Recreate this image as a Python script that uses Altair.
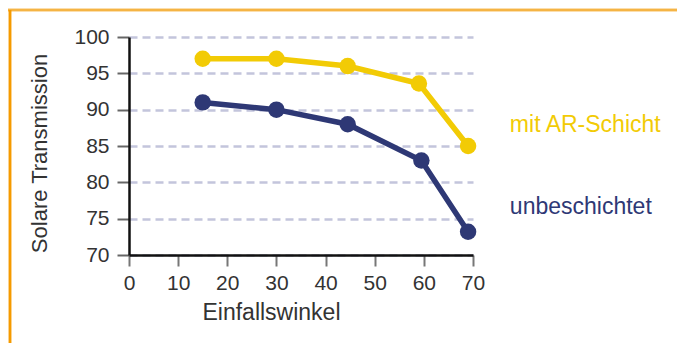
import altair as alt
import pandas as pd

angles_ar = [15, 30, 44.5, 59, 69]
trans_ar = [97, 97, 96, 93.6, 85]
angles_un = [15, 30, 44.5, 59.5, 69]
trans_un = [91, 90, 88, 83, 73.2]
series = ["mit AR-Schicht", "unbeschichtet"]
colors = ["#f2cb05", "#2e3875"]
label_x = [77.5, 77.5]
label_y = [87.9, 76.6]

df = pd.DataFrame({
    "Einfallswinkel": angles_ar + angles_un,
    "Transmission": trans_ar + trans_un,
    "Serie": [series[0]] * len(angles_ar) + [series[1]] * len(angles_un),
})
labels = pd.DataFrame({"Einfallswinkel": label_x, "Transmission": label_y, "Serie": series})

FONT = "Liberation Sans"
color = alt.Color("Serie:N", scale=alt.Scale(domain=series, range=colors), legend=None)
xscale = alt.Scale(domain=[0, 70], nice=False, zero=False)
yscale = alt.Scale(domain=[70, 100], nice=False, zero=False)

x = alt.X("Einfallswinkel:Q", scale=xscale,
          axis=alt.Axis(title="Einfallswinkel", values=list(range(0, 71, 10)), grid=False,
                        labelOverlap=False, labelFlush=False,
                        domainColor="#111111", domainWidth=2.5, tickColor="#777777",
                        tickSize=11, tickWidth=2, labelFontSize=21, labelFont=FONT,
                        labelColor="#333333", labelPadding=6, titleFont=FONT,
                        titleFontSize=23, titleFontWeight="normal", titleColor="#333333",
                        titlePadding=8, titleX=142, titleAnchor="middle"))
y = alt.Y("Transmission:Q", scale=yscale,
          axis=alt.Axis(title="Solare Transmission", values=list(range(70, 101, 5)),
                        labelOverlap=False, labelFlush=False,
                        grid=True, gridColor="#c3c5dc", gridDash=[8, 5], gridWidth=2.5,
                        domainColor="#111111", domainWidth=2.5, tickColor="#666666",
                        tickSize=12, tickWidth=2, labelFontSize=21, labelFont=FONT,
                        labelColor="#333333", labelPadding=8, titleFont=FONT,
                        titleFontSize=22, titleFontWeight="normal", titleColor="#333333",
                        titlePadding=22, titleY=116))

lines = alt.Chart(df).mark_line(strokeWidth=5.5, clip=False).encode(x=x, y=y, color=color)
points = alt.Chart(df).mark_circle(size=270, opacity=1, clip=False).encode(x=x, y=y, color=color)
texts = alt.Chart(labels).mark_text(align="left", baseline="middle", fontSize=23, font=FONT,
                                    clip=False).encode(x=x, y=y, text="Serie:N", color=color)

frame_top = alt.Chart(labels).mark_rule(color="#f5b445", strokeWidth=2.5, clip=False).encode(
    x=alt.value(-121), x2=alt.value(548), y=alt.value(-27))
frame_left = alt.Chart(labels).mark_rule(color="#f59a00", strokeWidth=2.5, clip=False).encode(
    x=alt.value(-119), y=alt.value(-27), y2=alt.value(306))

chart = alt.layer(lines, frame_top, frame_left, points, texts).properties(
    width=344, height=218,
    autosize=alt.AutoSizeParams(type="none"),
    padding={"left": 129, "top": 37, "right": 204, "bottom": 88},
).configure_view(stroke=None, clip=False)

chart.save("out.html", embed_options={"renderer": "svg", "actions": False})
